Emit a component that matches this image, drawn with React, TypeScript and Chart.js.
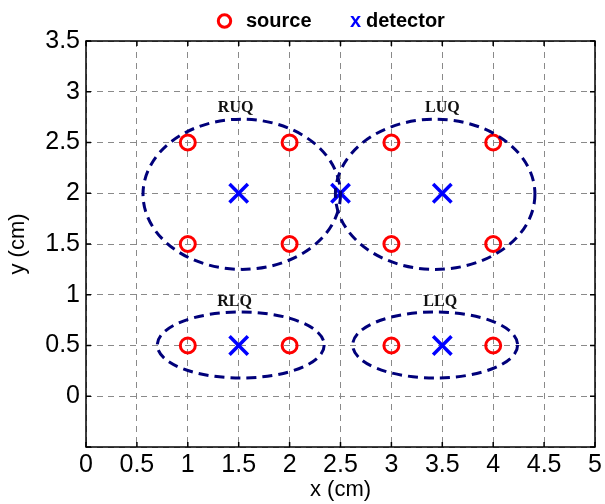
import React, { useEffect, useRef } from "react";
import { Chart, registerables } from "chart.js";

Chart.register(...registerables);

// ---- data ----
const sourceX = [1, 2, 1, 2, 3, 4, 3, 4, 1, 2, 3, 4];
const sourceY = [2.5, 2.5, 1.5, 1.5, 2.5, 2.5, 1.5, 1.5, 0.5, 0.5, 0.5, 0.5];
const detectorX = [1.5, 2.5, 3.5, 1.5, 3.5];
const detectorY = [2, 2, 2, 0.5, 0.5];

const regionNames = ["RUQ", "LUQ", "RLQ", "LLQ"];
const regionLabelX = [1.47, 3.5, 1.46, 3.48];
const regionLabelY = [2.84, 2.84, 0.93, 0.93];
const ellipseCX = [1.53, 3.43, 1.52, 3.43];
const ellipseCY = [1.99, 1.99, 0.505, 0.505];
const ellipseRX = [0.97, 0.98, 0.82, 0.81];
const ellipseRY = [0.74, 0.74, 0.325, 0.325];

const xTickMin = 0;
const xTickMax = 5;
const yTickMin = -0.5;
const yTickMax = 3.5;
const tickStep = 0.5;
const hiddenYTicks = [-0.5];

const legendLabels = ["source", "detector"];

const SANS = "'Liberation Sans', Arial, Helvetica, sans-serif";
const SERIF = "'Liberation Serif', 'Times New Roman', serif";

const decorPlugin = {
  id: "decor",
  afterDatasetsDraw(chart: any) {
    const { ctx, chartArea, scales } = chart;
    const xs = scales.x;
    const ys = scales.y;
    ctx.save();
    // ellipses
    ctx.strokeStyle = "#00007a";
    ctx.lineWidth = 3;
    ctx.setLineDash([10, 6]);
    for (let i = 0; i < ellipseCX.length; i++) {
      const cx = xs.getPixelForValue(ellipseCX[i]);
      const cy = ys.getPixelForValue(ellipseCY[i]);
      const rx = Math.abs(xs.getPixelForValue(ellipseCX[i] + ellipseRX[i]) - cx);
      const ry = Math.abs(ys.getPixelForValue(ellipseCY[i] + ellipseRY[i]) - cy);
      ctx.beginPath();
      ctx.ellipse(cx, cy, rx, ry, 0, 0, Math.PI * 2);
      ctx.stroke();
    }
    ctx.setLineDash([]);
    // region labels
    ctx.fillStyle = "#111";
    ctx.font = `bold 16px ${SERIF}`;
    ctx.textAlign = "center";
    ctx.textBaseline = "middle";
    for (let i = 0; i < regionNames.length; i++) {
      ctx.fillText(
        regionNames[i],
        xs.getPixelForValue(regionLabelX[i]),
        ys.getPixelForValue(regionLabelY[i])
      );
    }
    // frame
    ctx.strokeStyle = "#000";
    ctx.lineWidth = 1.5;
    ctx.strokeRect(
      chartArea.left,
      chartArea.top,
      chartArea.right - chartArea.left,
      chartArea.bottom - chartArea.top
    );
    // inner tick marks
    const tl = 5;
    xs.ticks.forEach((t: any) => {
      const px = xs.getPixelForValue(t.value);
      ctx.beginPath();
      ctx.moveTo(px, chartArea.bottom);
      ctx.lineTo(px, chartArea.bottom - tl);
      ctx.moveTo(px, chartArea.top);
      ctx.lineTo(px, chartArea.top + tl);
      ctx.stroke();
    });
    ys.ticks.forEach((t: any) => {
      const py = ys.getPixelForValue(t.value);
      ctx.beginPath();
      ctx.moveTo(chartArea.left, py);
      ctx.lineTo(chartArea.left + tl, py);
      ctx.moveTo(chartArea.right, py);
      ctx.lineTo(chartArea.right - tl, py);
      ctx.stroke();
    });
    // legend
    const cxm = (chartArea.left + chartArea.right) / 2;
    const ly = 21;
    ctx.textAlign = "left";
    ctx.textBaseline = "middle";
    ctx.strokeStyle = "#ff0000";
    ctx.lineWidth = 3;
    ctx.beginPath();
    ctx.arc(cxm - 116, ly, 6.2, 0, Math.PI * 2);
    ctx.stroke();
    ctx.font = `bold 20px ${SANS}`;
    ctx.fillStyle = "#000";
    ctx.fillText(legendLabels[0], cxm - 94.5, ly);
    ctx.fillStyle = "#0000ff";
    ctx.fillText("x", cxm + 9.5, ly);
    ctx.fillStyle = "#000";
    ctx.fillText(legendLabels[1], cxm + 25.5, ly);
    ctx.restore();
  },
};

export default function App() {
  const ref = useRef<HTMLCanvasElement>(null);
  useEffect(() => {
    if (!ref.current) return;
    const chart = new Chart(ref.current, {
      type: "scatter",
      data: {
        datasets: [
          {
            label: legendLabels[0],
            data: sourceX.map((x, i) => ({ x, y: sourceY[i] })),
            pointStyle: "circle",
            pointRadius: 7.5,
            pointBorderWidth: 3,
            pointBorderColor: "#ff0000",
            pointBackgroundColor: "rgba(0,0,0,0)",
            borderWidth: 3,
            borderColor: "#ff0000",
            showLine: false,
          },
          {
            label: legendLabels[1],
            data: detectorX.map((x, i) => ({ x, y: detectorY[i] })),
            pointStyle: "crossRot",
            pointRadius: 13,
            pointBorderWidth: 3.5,
            pointBorderColor: "#0000ff",
            borderWidth: 3.5,
            borderColor: "#0000ff",
            showLine: false,
          },
        ],
      },
      options: {
        animation: false,
        responsive: false,
        maintainAspectRatio: false,
        devicePixelRatio: 1,
        layout: {
          autoPadding: false,
          padding: { top: 41, right: 10, left: 4, bottom: 0 },
        },
        plugins: {
          legend: { display: false },
          tooltip: { enabled: false },
        },
        scales: {
          x: {
            type: "linear",
            min: xTickMin,
            max: xTickMax,
            afterFit: (s: any) => {
              s.height = 57;
              s.paddingRight = 0;
              s.paddingLeft = 0;
            },
            ticks: {
              stepSize: tickStep,
              autoSkip: false,
              maxRotation: 0,
              padding: 3,
              color: "#000",
              font: { family: SANS, size: 25 },
              callback: (v: any) => String(v),
            },
            grid: {
              drawTicks: false,
              color: "#8a8a8a",
              lineWidth: 1,
            },
            border: { display: false, dash: [6, 5] },
            title: {
              display: true,
              text: "x (cm)",
              color: "#000",
              font: { family: SANS, size: 22 },
              padding: { top: 0, bottom: 1 },
            },
          },
          y: {
            type: "linear",
            min: yTickMin,
            max: yTickMax,
            afterFit: (s: any) => {
              s.width = 82;
              s.paddingTop = 0;
              s.paddingBottom = 0;
            },
            ticks: {
              stepSize: tickStep,
              autoSkip: false,
              padding: 6,
              color: "#000",
              font: { family: SANS, size: 25 },
              callback: (v: any) =>
                hiddenYTicks.includes(Number(v)) ? "" : String(v),
            },
            grid: {
              drawTicks: false,
              color: "#8a8a8a",
              lineWidth: 1,
            },
            border: { display: false, dash: [6, 5] },
            title: {
              display: true,
              text: "y (cm)",
              color: "#000",
              font: { family: SANS, size: 22 },
              padding: { top: 1, bottom: 1 },
            },
          },
        },
      },
      plugins: [decorPlugin],
    });
    return () => chart.destroy();
  }, []);
  return (
    <div
      style={{
        position: "absolute",
        left: 0,
        top: 0,
        width: 605,
        height: 504,
        background: "#fff",
      }}
    >
      <canvas ref={ref} width={605} height={504} style={{ display: "block" }} />
    </div>
  );
}
